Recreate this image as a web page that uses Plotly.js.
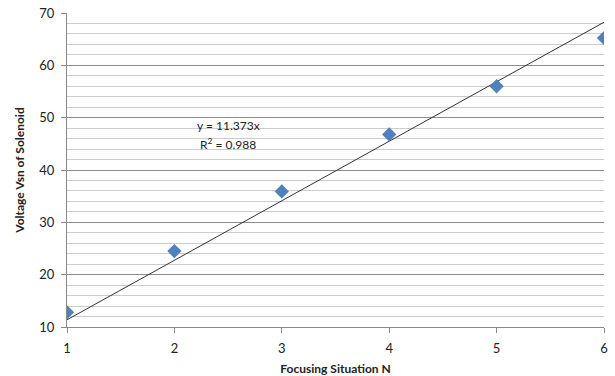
<!DOCTYPE html>
<html><head><meta charset="utf-8">
<script src="https://cdn.plot.ly/plotly-3.0.1.min.js"></script>
<style>body{margin:0;background:#fff}#c{width:615px;height:376px}</style>
</head><body><div id="c"></div>
<script>
const focusingN = [1, 2, 3, 4, 5, 6];
const voltageVsn = [12.8, 24.5, 35.9, 46.8, 56.0, 65.2];
const slope = 11.373;
const trendX = [1, 6];
const trendY = trendX.map(x => slope * x);
const eqText = 'y = 11.373x';
const r2Text = 'R<sup>2</sup> = 0.988';
const font = 'Lato, "Liberation Sans", sans-serif';
const data = [
  {x: trendX, y: trendY, mode: 'lines', line: {color: '#333333', width: 1}, hoverinfo: 'skip'},
  {x: focusingN, y: voltageVsn, mode: 'markers', marker: {symbol: 'diamond', size: 11, color: '#4f81bd'}}
];
const layout = {
  width: 615, height: 376,
  margin: {l: 67, r: 11, t: 13, b: 49},
  showlegend: false,
  paper_bgcolor: '#fff', plot_bgcolor: '#fff',
  font: {family: font, size: 12, color: '#222'},
  xaxis: {
    range: [1, 6], dtick: 1, showgrid: false, zeroline: false,
    showline: true, linecolor: '#888', linewidth: 1,
    ticks: 'outside', ticklen: 5, tickcolor: '#888',
    ticklabelstandoff: 4,
    tickfont: {size: 13, color: '#222'},
    title: {text: '<b>Focusing Situation N</b>', font: {size: 12, color: '#222'}, standoff: 14}
  },
  yaxis: {
    range: [10, 70], dtick: 10, zeroline: false,
    showgrid: true, gridcolor: '#8c8c8c', gridwidth: 1,
    minor: {dtick: 2, showgrid: true, gridcolor: '#cccccc', gridwidth: 1},
    showline: true, linecolor: '#888', linewidth: 1,
    ticks: 'outside', ticklen: 5, tickcolor: '#888',
    ticklabelstandoff: 4,
    tickfont: {size: 13, color: '#222'},
    title: {text: '<b>Voltage Vsn of Solenoid</b>', font: {size: 12, color: '#222'}, standoff: 12}
  },
  annotations: [
    {x: 2.5, y: 48.5, xref: 'x', yref: 'y', text: eqText, showarrow: false, font: {size: 12, color: '#222'}},
    {x: 2.5, y: 45.0, xref: 'x', yref: 'y', text: r2Text, showarrow: false, font: {size: 12, color: '#222'}}
  ]
};
Plotly.newPlot('c', data, layout, {displayModeBar: false, staticPlot: true});
</script></body></html>
